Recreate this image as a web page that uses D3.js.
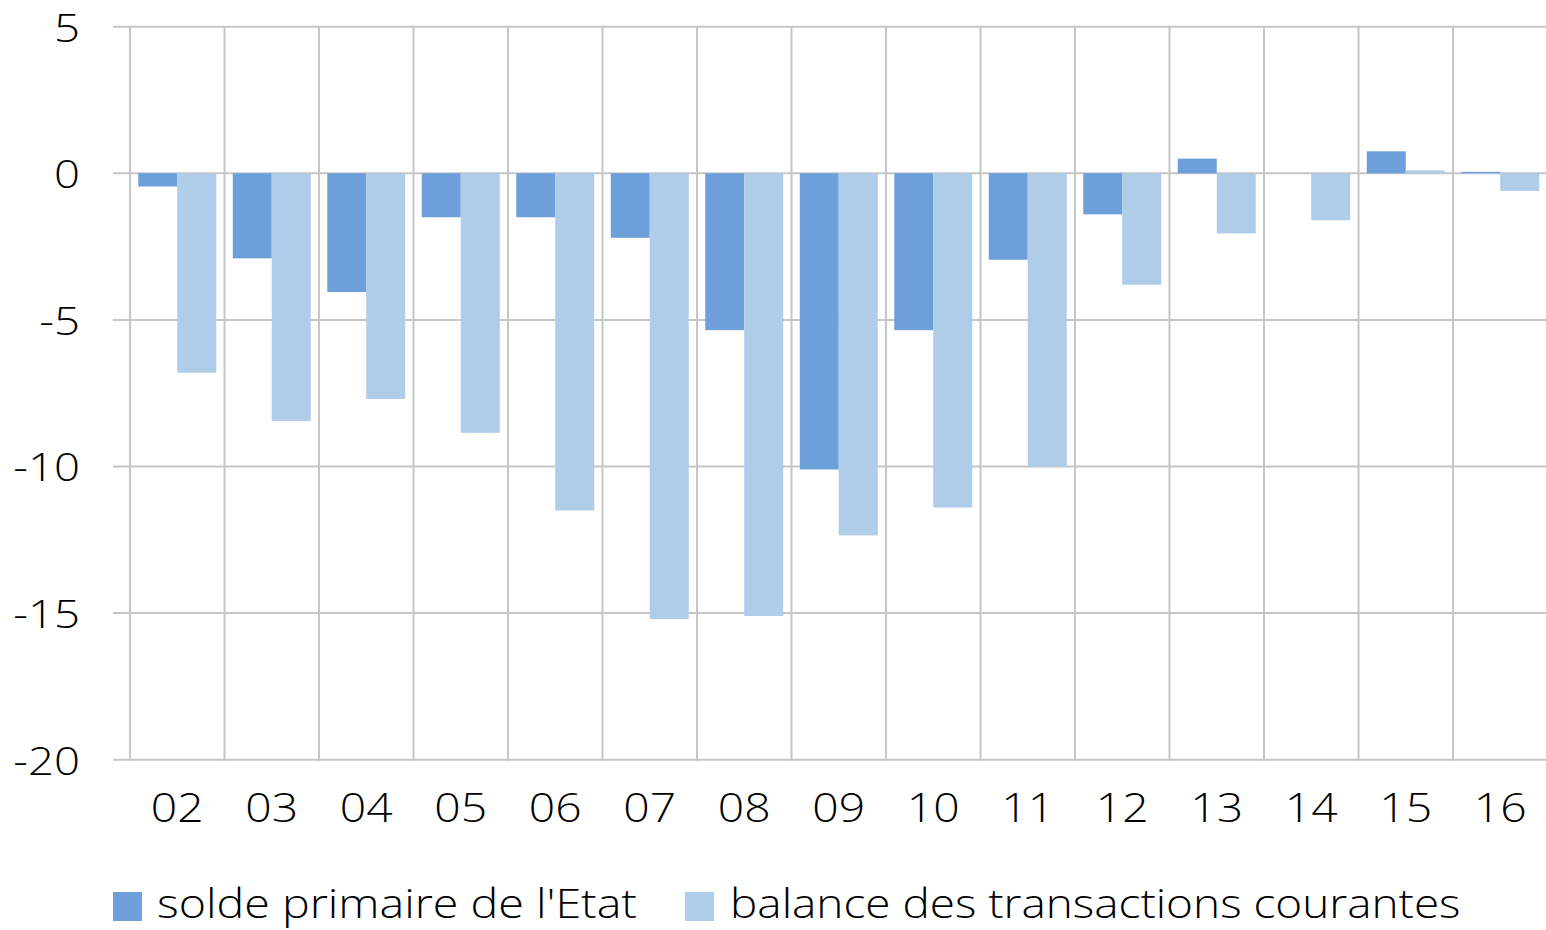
<!DOCTYPE html>
<html>
<head>
<meta charset="utf-8">
<script src="https://cdn.jsdelivr.net/npm/d3@7"></script>
<style>
  html, body { margin: 0; padding: 0; background: #fff; }
  svg text { font-family: "Open Sans", sans-serif; font-weight: 300; fill: #000; }
</style>
</head>
<body>
<svg id="chart" width="1546" height="930"></svg>
<script>
const categories = ["02","03","04","05","06","07","08","09","10","11","12","13","14","15","16"];
const soldePrimaire = [-0.45,-2.9,-4.05,-1.5,-1.5,-2.2,-5.35,-10.1,-5.35,-2.95,-1.4,0.5,0,0.75,0.05];
const balanceCourante = [-6.8,-8.45,-7.7,-8.85,-11.5,-15.2,-15.1,-12.35,-11.4,-10.0,-3.8,-2.05,-1.6,0.1,-0.6];
const seriesNames = ["solde primaire de l'Etat","balance des transactions courantes"];
const seriesColors = ["#6d9fdb","#afcce8"];
const yTicks = [5,0,-5,-10,-15,-20];

(function () {
const svg = d3.select("#chart");
const pLeft = 130, pRight = 1547.5, pTop = 26.7, pBottom = 759.7;

const x = d3.scaleBand().domain(categories).range([pLeft, pRight]).padding(0);
const inner = d3.scaleBand().domain([0,1]).range([x.bandwidth()*0.0875, x.bandwidth()*0.9125]).padding(0);
const y = d3.scaleLinear().domain([-20, 5]).range([pBottom, pTop]);

const grid = svg.append("g").attr("stroke", "#c6c6c6").attr("stroke-width", 2);
grid.selectAll("line.h").data(yTicks).join("line")
  .attr("x1", 113).attr("x2", 1546)
  .attr("y1", d => y(d)).attr("y2", d => y(d));
const bounds = categories.map(c => x(c));
grid.selectAll("line.v").data(bounds).join("line")
  .attr("x1", d => d).attr("x2", d => d)
  .attr("y1", pTop).attr("y2", pBottom + 1);

svg.append("g").selectAll("text").data(yTicks).join("text")
  .attr("transform", d => `translate(80,${y(d)}) scale(1.2,1)`)
  .attr("text-anchor", "end").attr("dominant-baseline", "central")
  .attr("font-size", 38)
  .text(d => d);

svg.append("g").selectAll("text").data(categories).join("text")
  .attr("transform", d => `translate(${x(d) + x.bandwidth()/2},822) scale(1.13,1)`)
  .attr("text-anchor", "middle")
  .attr("font-size", 41)
  .text(d => d);

const data = categories.map((c, i) => ({c, vals: [soldePrimaire[i], balanceCourante[i]]}));
const groups = svg.append("g").selectAll("g").data(data).join("g")
  .attr("transform", d => `translate(${x(d.c)},0)`);
groups.selectAll("rect").data(d => d.vals.map((v, k) => ({v, k}))).join("rect")
  .attr("x", d => inner(d.k))
  .attr("width", inner.bandwidth())
  .attr("y", d => Math.min(y(0), y(d.v)))
  .attr("height", d => Math.abs(y(d.v) - y(0)))
  .attr("fill", d => seriesColors[d.k]);

const legendItems = [{x: 113, tx: 157, sx: 1.165}, {x: 685, tx: 730, sx: 1.148}];
const lg = svg.append("g");
legendItems.forEach((it, i) => {
  lg.append("rect").attr("x", it.x).attr("y", 892).attr("width", 29).attr("height", 29).attr("fill", seriesColors[i]);
  lg.append("text").attr("transform", `translate(${it.tx},918) scale(${it.sx},1)`)
    .attr("font-size", 40).text(seriesNames[i]);
});
})();
</script>
</body>
</html>
